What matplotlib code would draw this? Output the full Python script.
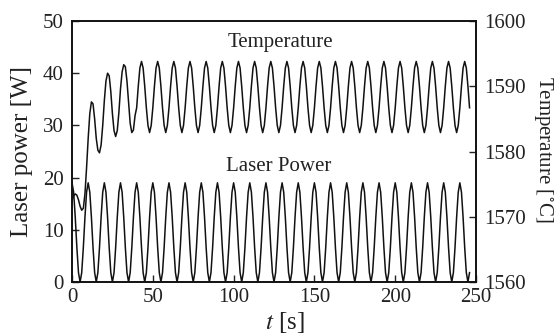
import numpy as np
import matplotlib
matplotlib.use("Agg")
import matplotlib.pyplot as plt

plt.rcParams['font.family'] = ['Liberation Serif', 'DejaVu Serif']
plt.rcParams['mathtext.fontset'] = 'stix'

# laser power [W], sampled every 1 s from t = 0
laser_power = [
    19, 17.2, 12.4, 6.6, 1.8, 0, 1.8, 6.6, 12.4, 17.2,
    19, 17.2, 12.4, 6.6, 1.8, 0, 1.8, 6.6, 12.4, 17.2,
    19, 17.2, 12.4, 6.6, 1.8, 0, 1.8, 6.6, 12.4, 17.2,
    19, 17.2, 12.4, 6.6, 1.8, 0, 1.8, 6.6, 12.4, 17.2,
    19, 17.2, 12.4, 6.6, 1.8, 0, 1.8, 6.6, 12.4, 17.2,
    19, 17.2, 12.4, 6.6, 1.8, 0, 1.8, 6.6, 12.4, 17.2,
    19, 17.2, 12.4, 6.6, 1.8, 0, 1.8, 6.6, 12.4, 17.2,
    19, 17.2, 12.4, 6.6, 1.8, 0, 1.8, 6.6, 12.4, 17.2,
    19, 17.2, 12.4, 6.6, 1.8, 0, 1.8, 6.6, 12.4, 17.2,
    19, 17.2, 12.4, 6.6, 1.8, 0, 1.8, 6.6, 12.4, 17.2,
    19, 17.2, 12.4, 6.6, 1.8, 0, 1.8, 6.6, 12.4, 17.2,
    19, 17.2, 12.4, 6.6, 1.8, 0, 1.8, 6.6, 12.4, 17.2,
    19, 17.2, 12.4, 6.6, 1.8, 0, 1.8, 6.6, 12.4, 17.2,
    19, 17.2, 12.4, 6.6, 1.8, 0, 1.8, 6.6, 12.4, 17.2,
    19, 17.2, 12.4, 6.6, 1.8, 0, 1.8, 6.6, 12.4, 17.2,
    19, 17.2, 12.4, 6.6, 1.8, 0, 1.8, 6.6, 12.4, 17.2,
    19, 17.2, 12.4, 6.6, 1.8, 0, 1.8, 6.6, 12.4, 17.2,
    19, 17.2, 12.4, 6.6, 1.8, 0, 1.8, 6.6, 12.4, 17.2,
    19, 17.2, 12.4, 6.6, 1.8, 0, 1.8, 6.6, 12.4, 17.2,
    19, 17.2, 12.4, 6.6, 1.8, 0, 1.8, 6.6, 12.4, 17.2,
    19, 17.2, 12.4, 6.6, 1.8, 0, 1.8, 6.6, 12.4, 17.2,
    19, 17.2, 12.4, 6.6, 1.8, 0, 1.8, 6.6, 12.4, 17.2,
    19, 17.2, 12.4, 6.6, 1.8, 0, 1.8, 6.6, 12.4, 17.2,
    19, 17.2, 12.4, 6.6, 1.8, 0, 1.8, 6.6, 12.4, 17.2,
    19, 17.2, 12.4, 6.6, 1.8, 0, 1.8,
]

# temperature [C], same sampling
temperature = [
    1572.5, 1573.2, 1573.5, 1573.3, 1572.6, 1571.6, 1571.0, 1571.3, 1573.5, 1577.5,
    1582.0, 1585.8, 1587.6, 1587.3, 1585.0, 1582.0, 1580.2, 1579.8, 1581.0, 1584.0,
    1587.8, 1590.8, 1592.0, 1591.6, 1589.2, 1585.8, 1583.2, 1582.3, 1583.2, 1586.0,
    1589.6, 1592.2, 1593.3, 1593.0, 1590.8, 1587.5, 1584.3, 1582.9, 1583.3, 1585.5,
    1586.7, 1590.0, 1592.8, 1593.8, 1592.8, 1590.0, 1586.7, 1584.0, 1582.9, 1584.0,
    1586.7, 1590.0, 1592.8, 1593.8, 1592.8, 1590.0, 1586.7, 1584.0, 1582.9, 1584.0,
    1586.7, 1590.0, 1592.8, 1593.8, 1592.8, 1590.0, 1586.7, 1584.0, 1582.9, 1584.0,
    1586.7, 1590.0, 1592.8, 1593.8, 1592.8, 1590.0, 1586.7, 1584.0, 1582.9, 1584.0,
    1586.7, 1590.0, 1592.8, 1593.8, 1592.8, 1590.0, 1586.7, 1584.0, 1582.9, 1584.0,
    1586.7, 1590.0, 1592.8, 1593.8, 1592.8, 1590.0, 1586.7, 1584.0, 1582.9, 1584.0,
    1586.7, 1590.0, 1592.8, 1593.8, 1592.8, 1590.0, 1586.7, 1584.0, 1582.9, 1584.0,
    1586.7, 1590.0, 1592.8, 1593.8, 1592.8, 1590.0, 1586.7, 1584.0, 1582.9, 1584.0,
    1586.7, 1590.0, 1592.8, 1593.8, 1592.8, 1590.0, 1586.7, 1584.0, 1582.9, 1584.0,
    1586.7, 1590.0, 1592.8, 1593.8, 1592.8, 1590.0, 1586.7, 1584.0, 1582.9, 1584.0,
    1586.7, 1590.0, 1592.8, 1593.8, 1592.8, 1590.0, 1586.7, 1584.0, 1582.9, 1584.0,
    1586.7, 1590.0, 1592.8, 1593.8, 1592.8, 1590.0, 1586.7, 1584.0, 1582.9, 1584.0,
    1586.7, 1590.0, 1592.8, 1593.8, 1592.8, 1590.0, 1586.7, 1584.0, 1582.9, 1584.0,
    1586.7, 1590.0, 1592.8, 1593.8, 1592.8, 1590.0, 1586.7, 1584.0, 1582.9, 1584.0,
    1586.7, 1590.0, 1592.8, 1593.8, 1592.8, 1590.0, 1586.7, 1584.0, 1582.9, 1584.0,
    1586.7, 1590.0, 1592.8, 1593.8, 1592.8, 1590.0, 1586.7, 1584.0, 1582.9, 1584.0,
    1586.7, 1590.0, 1592.8, 1593.8, 1592.8, 1590.0, 1586.7, 1584.0, 1582.9, 1584.0,
    1586.7, 1590.0, 1592.8, 1593.8, 1592.8, 1590.0, 1586.7, 1584.0, 1582.9, 1584.0,
    1586.7, 1590.0, 1592.8, 1593.8, 1592.8, 1590.0, 1586.7, 1584.0, 1582.9, 1584.0,
    1586.7, 1590.0, 1592.8, 1593.8, 1592.8, 1590.0, 1586.7, 1584.0, 1582.9, 1584.0,
    1586.7, 1590.0, 1592.8, 1593.8, 1592.8, 1590.0, 1586.7,
]

time_s = np.arange(len(laser_power))  # 1 s sampling

x_ticks = [0, 50, 100, 150, 200, 250]
power_ticks = [0, 10, 20, 30, 40, 50]
temp_ticks = [1560, 1570, 1580, 1590, 1600]

fig = plt.figure(figsize=(5.57, 3.35), dpi=100)
ax = fig.add_axes([0.1293, 0.1582, 0.7253, 0.7791])
ax2 = ax.twinx()

ax.plot(time_s, laser_power, color='#111111', lw=1.1)
ax2.plot(time_s, temperature, color='#111111', lw=1.1)

ax.set_xlim(0, 250)
ax.set_ylim(0, 50)
ax2.set_ylim(1560, 1600)
ax.set_xticks(x_ticks)
ax.set_yticks(power_ticks)
ax2.set_yticks(temp_ticks)

for a in (ax, ax2):
    a.tick_params(direction='in', length=5, width=1.0, labelsize=15,
                  colors='#222222', pad=6)
    for s in a.spines.values():
        s.set_linewidth(1.2)
        s.set_color('#111111')
ax.tick_params(axis='x', pad=4)

ax.set_xlabel('$t$ [s]', fontsize=18, color='#222222', va='center')
ax.xaxis.set_label_coords(0.527, -0.157)
ax.set_ylabel('Laser power [W]', fontsize=18, color='#222222', va='center')
ax.yaxis.set_label_coords(-0.1245, 0.5)
ax2.set_ylabel('Temperature [$^{\\circ}$C]', fontsize=15, color='#222222',
               rotation=270, va='center')
ax2.yaxis.set_label_coords(1.168, 0.51)

ax.text(129, 45.8, 'Temperature', fontsize=15, color='#222222',
        ha='center', va='center')
ax.text(128, 22.2, 'Laser Power', fontsize=15, color='#222222',
        ha='center', va='center')

fig.savefig('out.png', dpi=100)
